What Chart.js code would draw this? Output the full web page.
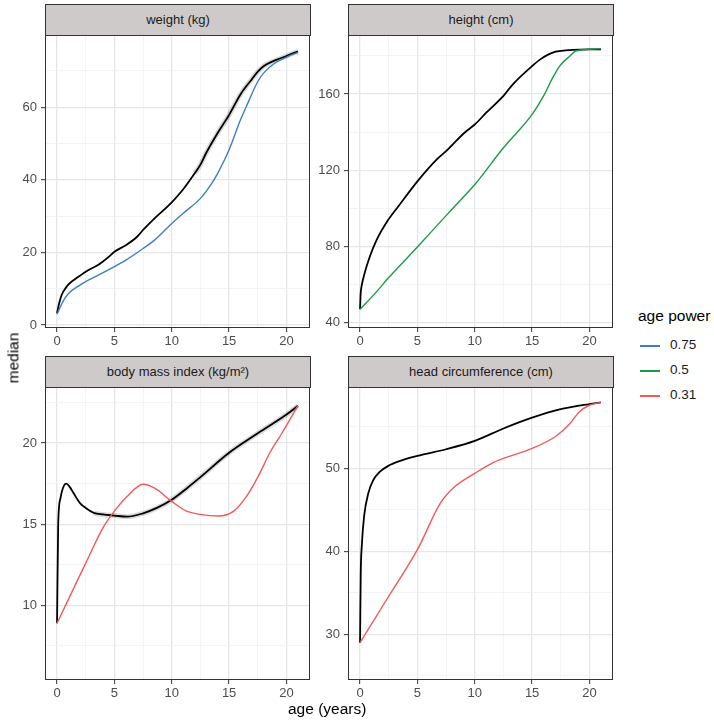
<!DOCTYPE html>
<html>
<head>
<meta charset="utf-8">
<script src="https://cdn.jsdelivr.net/npm/chart.js@4.4.0/dist/chart.umd.min.js"></script>
<style>
  body { margin: 0; background: #fff; font-family: "Liberation Sans", Arial, sans-serif; }
  #wrap { position: relative; width: 714px; height: 722px; overflow: hidden; }
  canvas { position: absolute; }
  .strip { position: absolute; box-sizing: border-box; height: 32px; background: #CFCACA;
           border: 1px solid #333; font-size: 13px; color: #1a1a1a; text-align: center; line-height: 30px; }
  .title { position: absolute; font-size: 15.5px; color: #000; white-space: nowrap; }
  .key { position: absolute; font-size: 13.5px; color: #1a1a1a; }
  .key span { position: absolute; left: 0; top: 8px; width: 20px; height: 1.5px; }
  .key b { font-weight: normal; position: absolute; left: 30px; top: 0; }
</style>
</head>
<body>
<div id="wrap">
  <div class="strip" style="left:45px;top:4px;width:266px;">weight (kg)</div>
  <div class="strip" style="left:348px;top:4px;width:266px;">height (cm)</div>
  <div class="strip" style="left:45px;top:356px;width:266px;">body mass index (kg/m²)</div>
  <div class="strip" style="left:348px;top:356px;width:266px;">head circumference (cm)</div>
  <canvas id="weight"></canvas>
  <canvas id="height"></canvas>
  <canvas id="bmi"></canvas>
  <canvas id="head"></canvas>
  <div class="title" style="left:-12px;top:349px;transform:rotate(-90deg);">median</div>
  <div class="title" style="left:288px;top:700px;">age (years)</div>
  <div class="title" style="left:638px;top:307px;">age power</div>
  <div class="key" style="left:640px;top:337px;"><span style="background:#3F7DC4"></span><b>0.75</b></div>
  <div class="key" style="left:640px;top:362px;"><span style="background:#1A9A4A"></span><b>0.5</b></div>
  <div class="key" style="left:640px;top:387px;"><span style="background:#F25A5A"></span><b>0.31</b></div>
</div>
<script>
// ---- data ----
const xMajor = [0, 5, 10, 15, 20];
const xMinor = [2.5, 7.5, 12.5, 17.5];

const weightBlackAge = [0, 0.2, 0.4, 0.8, 1, 1.5, 2, 2.5, 3, 3.5, 4, 4.5, 5, 6, 7, 7.5, 8.5, 10, 11, 12, 12.5, 13, 14, 15, 16, 17, 17.5, 18, 19, 20, 21];
const weightBlack = [3.3, 6.2, 8.3, 10.4, 11.2, 12.5, 13.6, 14.7, 15.6, 16.4, 17.5, 18.8, 20.2, 22, 24.4, 26.2, 29.4, 33.8, 37.4, 41.8, 44.2, 47.4, 52.9, 57.9, 63.6, 67.8, 69.8, 71.3, 72.9, 74.1, 75.4];
const weightBlueAge = [0, 0.5, 1, 2, 2.5, 3.5, 5, 6, 7.5, 8.5, 10, 11, 12.5, 13.5, 14, 15, 16, 16.5, 17.5, 18, 19, 20, 21];
const weightBlue = [3, 6.4, 8.7, 11, 12, 13.6, 16.1, 17.9, 21.1, 23.4, 28, 30.8, 34.9, 39.1, 41.8, 48.3, 56.6, 60.2, 67.1, 69.4, 72.2, 73.8, 75.1];

const heightBlackAge = [0, 0.05, 0.13, 0.4, 0.87, 1.45, 2.46, 3.33, 5, 6.67, 7.5, 9.1, 10, 11, 12.5, 13.3, 15, 15.8, 16.8, 18.5, 20, 21];
const heightBlack = [47, 55, 59, 66, 75, 83.5, 94, 101, 114.2, 125.6, 130, 139.7, 144, 150.2, 159, 165, 174.7, 178.6, 181.8, 183.2, 183.5, 183.5];
const heightGreenAge = [0, 1.45, 2.46, 5, 7.5, 8.4, 10, 12.5, 15, 16, 16.8, 17.4, 18.3, 18.8, 20, 21];
const heightGreen = [47, 56.3, 63.4, 79.7, 96.2, 102, 112.5, 131.8, 149.3, 159, 168.6, 174.7, 180, 182.6, 183.5, 183.8];

const bmiBlackAge = [0, 0.1, 0.3, 0.5, 0.8, 1.1, 1.45, 2, 2.5, 3.2, 4, 5, 6.1, 7.5, 8.7, 10, 11.3, 12.5, 15, 17.5, 20, 21];
const bmiBlack = [8.9, 15.0, 16.6, 17.2, 17.5, 17.3, 16.9, 16.3, 16.0, 15.7, 15.6, 15.53, 15.46, 15.67, 16.0, 16.5, 17.2, 17.9, 19.4, 20.6, 21.75, 22.3];
const bmiRedAge = [0, 2.5, 4.06, 5, 6.1, 7.5, 8.55, 10, 11.3, 12.5, 14.06, 15.4, 16.5, 17.5, 18.55, 19.6, 21];
const bmiRed = [8.9, 12.6, 14.85, 15.8, 16.7, 17.46, 17.2, 16.4, 15.8, 15.6, 15.5, 15.8, 16.7, 17.9, 19.4, 20.6, 22.3];

const headBlackAge = [0, 0.06, 0.15, 0.35, 0.72, 1.16, 1.74, 2.46, 3.5, 5, 7.5, 10, 12.5, 15, 17.4, 20, 21];
const headBlack = [29, 37.3, 40.6, 44.2, 47, 48.6, 49.6, 50.3, 50.9, 51.5, 52.3, 53.3, 54.8, 56.1, 57.1, 57.75, 57.95];
const headRedAge = [0, 2.46, 5, 7, 8.26, 10, 11.6, 12.5, 15, 17.1, 18.3, 19.1, 20, 21];
const headRed = [29, 34.5, 40.2, 45.8, 47.8, 49.4, 50.7, 51.2, 52.4, 53.9, 55.4, 56.8, 57.6, 57.95];

// ---- drawing ----
const FONT = { family: '"Liberation Sans", Arial, sans-serif', size: 13 };

const pts = (xs, ys) => xs.map((x, i) => ({ x: x, y: ys[i] }));

const panelBorder = {
  id: 'panelBorder',
  afterDraw(chart) {
    const { ctx, chartArea: a } = chart;
    ctx.save();
    ctx.strokeStyle = '#333';
    ctx.lineWidth = 1;
    ctx.strokeRect(a.left + 0.5, a.top + 0.5, a.right - a.left - 1, a.bottom - a.top - 1);
    ctx.restore();
  }
};

function axis(min, max, major, minor, isY) {
  return {
    type: 'linear',
    min: min,
    max: max,
    bounds: 'data',
    afterBuildTicks: s => { s.ticks = major.concat(minor).map(v => ({ value: v })); },
    afterFit: s => {
      if (isY) s.width = 45; else s.height = 20;
      // no extra room for half labels at the ends
      s.paddingTop = 0; s.paddingBottom = 0; s.paddingLeft = 0; s.paddingRight = 0;
    },
    ticks: {
      autoSkip: false, maxRotation: 0, padding: isY ? 4 : 2,
      color: '#4d4d4d', font: FONT,
      callback: v => major.includes(v) ? String(v) : ''
    },
    grid: {
      color: c => major.includes(c.tick.value) ? '#E6E6E6' : '#F1F1F1',
      lineWidth: c => major.includes(c.tick.value) ? 1.3 : 0.8,
      tickColor: c => major.includes(c.tick.value) ? '#333' : 'rgba(0,0,0,0)',
      tickLength: 4,
      tickWidth: 1
    },
    border: { display: false }
  };
}

function panel(id, box, yRange, yMajor, yMinor, datasets) {
  const canvas = document.getElementById(id);
  canvas.width = box.r - box.l + 49;
  canvas.height = box.b - box.t + 20;
  canvas.style.left = (box.l - 45) + 'px';
  canvas.style.top = box.t + 'px';
  new Chart(canvas, {
    type: 'line',
    data: { datasets: datasets },
    options: {
      responsive: false,
      animation: false,
      devicePixelRatio: 1,
      layout: { padding: { left: 0, right: 4, top: 0, bottom: 0 }, autoPadding: false },
      plugins: { legend: { display: false }, tooltip: { enabled: false } },
      elements: { point: { radius: 0 }, line: { cubicInterpolationMode: 'monotone' } },
      scales: {
        x: axis(-1.05, 22.05, xMajor, xMinor, false),
        y: axis(yRange[0], yRange[1], yMajor, yMinor, true)
      }
    },
    plugins: [panelBorder]
  });
}

function coloured(xs, ys, color) {
  return { data: pts(xs, ys), borderColor: color, borderWidth: 1.4, fill: false };
}
function black(xs, ys) {
  return { data: pts(xs, ys), borderColor: '#000', borderWidth: 1.8, fill: false };
}
function ribbon(xs, ys, from) {
  return {
    data: pts(xs, ys), borderWidth: 5, fill: false, borderColor: 'rgba(0,0,0,0.15)',
    segment: { borderColor: c => c.p0.parsed.x < from ? 'rgba(0,0,0,0)' : 'rgba(0,0,0,0.15)' }
  };
}

panel('weight', { l: 45, r: 310, t: 35, b: 328 }, [-0.8, 79.9], [0, 20, 40, 60], [10, 30, 50, 70], [
  coloured(weightBlueAge, weightBlue, '#3F7DC4'),
  black(weightBlackAge, weightBlack),
  ribbon(weightBlackAge, weightBlack, 12)
]);

panel('height', { l: 348, r: 613, t: 35, b: 328 }, [37.2, 191], [40, 80, 120, 160], [60, 100, 140, 180], [
  coloured(heightGreenAge, heightGreen, '#1A9A4A'),
  black(heightBlackAge, heightBlack)
]);

panel('bmi', { l: 45, r: 310, t: 387, b: 680 }, [5.4, 23.45], [10, 15, 20], [7.5, 12.5, 17.5, 22.5], [
  coloured(bmiRedAge, bmiRed, '#F25A5A'),
  black(bmiBlackAge, bmiBlack),
  ribbon(bmiBlackAge, bmiBlack, 3)
]);

panel('head', { l: 348, r: 613, t: 387, b: 680 }, [24.5, 59.8], [30, 40, 50], [25, 35, 45, 55], [
  coloured(headRedAge, headRed, '#F25A5A'),
  black(headBlackAge, headBlack)
]);
</script>
</body>
</html>
